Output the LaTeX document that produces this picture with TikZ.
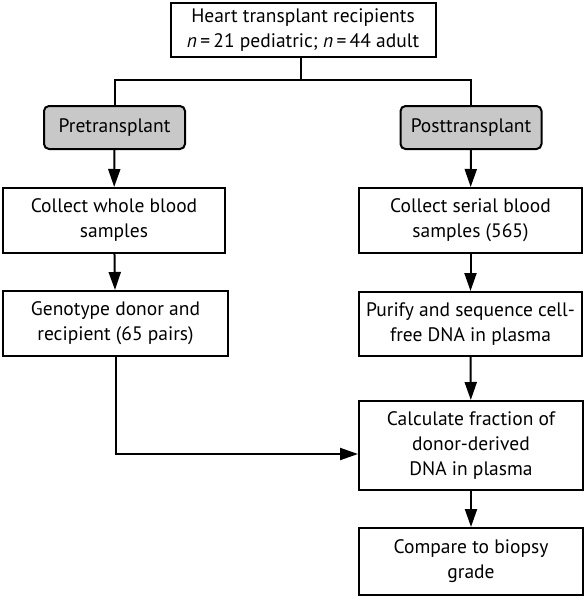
\documentclass[tikz,border=0pt]{standalone}
\usepackage{fontspec}
\setmainfont{PT Sans}
\usetikzlibrary{arrows.meta}

\definecolor{stagegray}{RGB}{200,200,200}
\tikzset{
  box/.style={draw,line width=2pt,align=center,inner sep=0pt,
    font=\fontsize{19.5}{25}\selectfont},
  stage/.style={box,rounded corners=5pt,fill=stagegray},
  flow/.style={line width=2pt,-{Triangle[length=18pt,width=12pt]}},
}

\begin{document}
\begin{tikzpicture}[x=1pt,y=-1pt]
\useasboundingbox (0,0) rectangle (587,600);

\node[box,minimum width=265pt,minimum height=54pt] at (303,30) (top)
  {Heart transplant recipients\\ \textit{n}\,=\,21 pediatric; \textit{n}\,=\,44 adult};
\coordinate (split) at (301,80);

\node[stage,minimum width=141pt,minimum height=43pt] at (114.5,127.5) (pre) {Pretransplant};
\node[stage,minimum width=141pt,minimum height=43pt] at (471,127.5) (post) {Posttransplant};

\node[box,minimum width=222pt,minimum height=65pt] at (114,220.5) (whole)
  {Collect whole blood\\ samples};
\node[box,minimum width=225pt,minimum height=65pt] at (115.5,323.5) (geno)
  {Genotype donor and\\ recipient (65 pairs)};

\node[box,minimum width=223pt,minimum height=65pt] at (470.5,220.5) (serial)
  {Collect serial blood\\ samples (565)};
\node[box,minimum width=223pt,minimum height=64pt] at (470.5,324) (purify)
  {Purify and sequence cell-\\ free DNA in plasma};
\node[box,minimum width=224pt,minimum height=89pt] at (471,445.5) (calc)
  {Calculate fraction of\\ donor-derived\\ DNA in plasma};
\node[box,minimum width=224pt,minimum height=67pt] at (471,561.5) (compare)
  {Compare to biopsy\\ grade};

% split into the two branches
\draw[line width=2pt] (top.south -| split) -- (split);
\draw[line width=2pt] (pre.north) |- (split) -| (post.north);

\draw[flow] (pre) -- (whole);
\draw[flow] (whole) -- (geno);
\draw[flow] (post) -- (serial);
\draw[flow] (serial) -- (purify);
\draw[flow] (purify) -- (calc);
\draw[flow] (calc) -- (compare);
\draw[flow] (geno.south) |- ([yshift=-8.5pt]calc.west);
\end{tikzpicture}
\end{document}
